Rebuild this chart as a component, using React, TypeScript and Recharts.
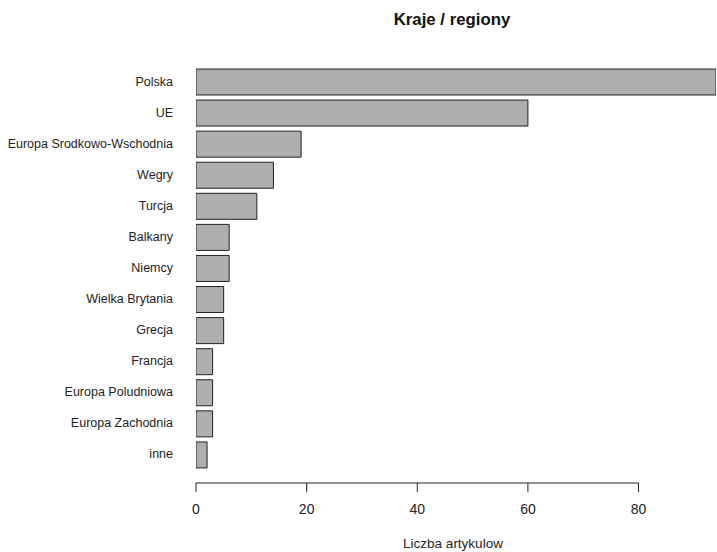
import React from 'react';
import { BarChart, Bar, XAxis, YAxis } from 'recharts';

const categories = [
  'Polska',
  'UE',
  'Europa Srodkowo-Wschodnia',
  'Wegry',
  'Turcja',
  'Balkany',
  'Niemcy',
  'Wielka Brytania',
  'Grecja',
  'Francja',
  'Europa Poludniowa',
  'Europa Zachodnia',
  'inne',
];
const counts = [94, 60, 19, 14, 11, 6, 6, 5, 5, 3, 3, 3, 2];
const xTicks = [0, 20, 40, 60, 80];
const X_MAX = 94;

const data = categories.map((name, i) => ({ name, value: counts[i] }));

const W = 717;
const H = 552;
const Y_AXIS_W = 196;
const M_RIGHT = 1;
const M_TOP = 66;
const X_AXIS_H = 82;
const PLOT_W = W - Y_AXIS_W - M_RIGHT;
const PX_PER_UNIT = PLOT_W / X_MAX;
const FONT = '"Liberation Sans", Arial, sans-serif';

const XTick = (props: any) => {
  const { x, y, payload, index } = props;
  const lineY = y + 13;
  const isFirst = index === 0;
  const span = (xTicks[xTicks.length - 1] - xTicks[0]) * PX_PER_UNIT;
  return (
    <g>
      {isFirst && (
        <line x1={x} y1={lineY} x2={x + span} y2={lineY} stroke="#222" strokeWidth={1} />
      )}
      <line x1={x} y1={lineY} x2={x} y2={lineY + 9} stroke="#222" strokeWidth={1} />
      <text x={x} y={y + 44} textAnchor="middle" fontFamily={FONT} fontSize={14} fill="#222">
        {payload.value}
      </text>
    </g>
  );
};

const YTick = (props: any) => {
  const { x, y, payload } = props;
  return (
    <text
      x={x}
      y={y}
      textAnchor="end"
      dominantBaseline="central"
      fontFamily={FONT}
      fontSize={12.5}
      fill="#222"
    >
      {payload.value}
    </text>
  );
};

export default function App() {
  return (
    <div style={{ position: 'absolute', left: 0, top: 0, width: W, height: H, background: '#fff' }}>
      <BarChart
        width={W}
        height={H}
        data={data}
        layout="vertical"
        margin={{ top: M_TOP, right: M_RIGHT, bottom: 0, left: 0 }}
      >
        <XAxis
          type="number"
          dataKey="value"
          domain={[0, X_MAX]}
          ticks={xTicks}
          allowDataOverflow
          height={X_AXIS_H}
          axisLine={false}
          tickLine={false}
          tickSize={0}
          tickMargin={0}
          tick={<XTick />}
          interval={0}
          label={{
            content: (p: any) => {
              const vb = p.viewBox || {};
              return (
                <text
                  x={vb.x + vb.width / 2 - 3}
                  y={vb.y + 78}
                  textAnchor="middle"
                  fontFamily={FONT}
                  fontSize={13.5}
                  fill="#222"
                >
                  Liczba artykulow
                </text>
              );
            },
          }}
        />
        <YAxis
          type="category"
          dataKey="name"
          width={Y_AXIS_W}
          axisLine={false}
          tickLine={false}
          tickSize={0}
          tickMargin={23}
          tick={<YTick />}
          interval={0}
        />
        <Bar
          dataKey="value"
          fill="#AEAEAE"
          stroke="#222"
          strokeWidth={1}
          barSize={26}
          isAnimationActive={false}
        />
      </BarChart>
      <svg
        width={W}
        height={40}
        style={{ position: 'absolute', left: 0, top: 0, pointerEvents: 'none' }}
      >
        <text
          x={452}
          y={25}
          textAnchor="middle"
          fontFamily={FONT}
          fontWeight="bold"
          fontSize={16.8}
          fill="#111"
        >
          Kraje / regiony
        </text>
      </svg>
    </div>
  );
}
